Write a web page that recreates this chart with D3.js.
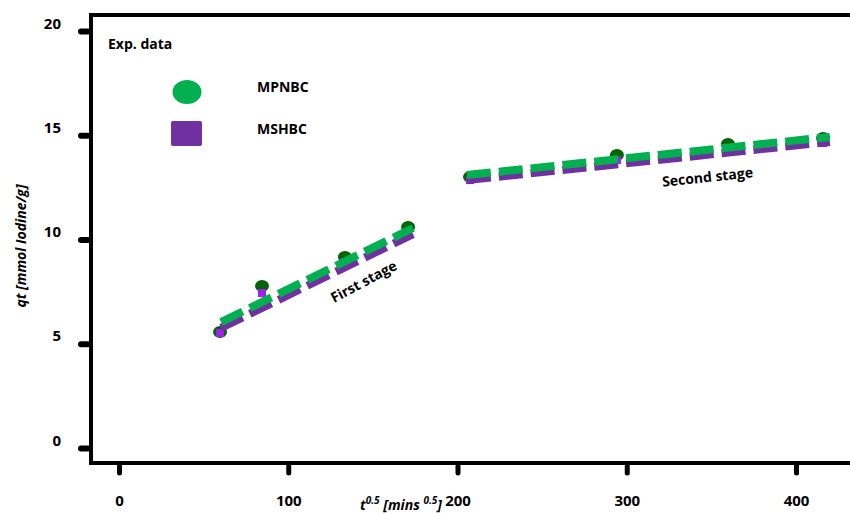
<!DOCTYPE html>
<html>
<head>
<meta charset="utf-8">
<script src="https://cdn.jsdelivr.net/npm/d3@7"></script>
<style>
  body { margin: 0; background: #fff; }
  text { font-family: "Open Sans", sans-serif; font-weight: 700; }
</style>
</head>
<body>
<div id="chart"></div>
<script>
// Chart size
var svgWidth = 850;
var svgHeight = 514;

// Data
var timeRoot = [59.7, 84.5, 133.5, 170.8, 207.4, 294.2, 359.8, 416];
var mpnbc = [5.56, 7.77, 9.16, 10.6, 13.0, 14.05, 14.58, 14.87];
var mshbc = [5.52, 7.43, 8.92, 10.31, 12.85, 13.81, 14.29, 14.63];

// Fitted lines for the two stages (end points)
var fitX1 = [60.3, 173.7];
var fitMpnbc1 = [6.04, 10.55];
var fitMshbc1 = [5.76, 10.26];
var fitX2 = [205.6, 420];
var fitMpnbc2 = [13.09, 14.92];
var fitMshbc2 = [12.85, 14.68];

var xTicks = [0, 100, 200, 300, 400];
var yTicks = [0, 5, 10, 15, 20];

var svg = d3.select("#chart")
    .append("svg")
    .attr("width", svgWidth)
    .attr("height", svgHeight);

// Scales
var x = d3.scaleLinear().domain([0, 400]).range([119, 796]);
var y = d3.scaleLinear().domain([0, 20]).range([448, 31]);

// Frame lines
svg.append("line").attr("x1", 89).attr("x2", 850).attr("y1", 15).attr("y2", 15)
    .attr("stroke", "#000").attr("stroke-width", 4);
svg.append("line").attr("x1", 91).attr("x2", 91).attr("y1", 13).attr("y2", 465)
    .attr("stroke", "#000").attr("stroke-width", 4);
svg.append("line").attr("x1", 89).attr("x2", 850).attr("y1", 463).attr("y2", 463)
    .attr("stroke", "#000").attr("stroke-width", 4);

// Left axis
var leftAxis = d3.axisLeft(y).tickValues(yTicks).tickSize(10).tickPadding(18);
var gy = svg.append("g").attr("transform", "translate(89,0)").call(leftAxis);
gy.select(".domain").remove();
gy.selectAll(".tick line").attr("stroke", "#000").attr("stroke-width", 6)
    .attr("stroke-linecap", "round").attr("x1", -1).attr("x2", -8);
gy.selectAll(".tick text").attr("font-size", 15).attr("fill", "#000")
    .attr("font-family", "Open Sans").attr("font-weight", 700)
    .attr("dy", "-0.2em");

// Bottom axis
var bottomAxis = d3.axisBottom(x).tickValues(xTicks).tickSize(10).tickPadding(22);
var gx = svg.append("g").attr("transform", "translate(0,463)").call(bottomAxis);
gx.select(".domain").remove();
gx.selectAll(".tick line").attr("stroke", "#000").attr("stroke-width", 5)
    .attr("stroke-linecap", "round").attr("y1", 3).attr("y2", 10);
gx.selectAll(".tick text").attr("font-size", 15).attr("fill", "#000")
    .attr("font-family", "Open Sans").attr("font-weight", 700);

// Axis titles
svg.append("text")
    .attr("transform", "translate(26,246) rotate(-90)")
    .attr("text-anchor", "middle")
    .attr("font-size", 14)
    .attr("font-style", "italic")
    .text("qt [mmol Iodine/g]");

var xt = svg.append("text")
    .attr("x", 360).attr("y", 510)
    .attr("font-size", 14)
    .attr("font-style", "italic");
xt.append("tspan").text("t");
xt.append("tspan").attr("font-size", 10).attr("dy", -6).text("0.5");
xt.append("tspan").attr("dy", 6).text(" [mins ");
xt.append("tspan").attr("font-size", 10).attr("dy", -6).text("0.5");
xt.append("tspan").attr("dy", 6).text("]");

// Experimental points
var pts = timeRoot.map((t, i) => ({ t: t, a: mpnbc[i], b: mshbc[i] }));

svg.selectAll("ellipse.pt").data(pts).enter()
    .append("ellipse").attr("class", "pt")
    .attr("cx", d => x(d.t)).attr("cy", d => y(d.a))
    .attr("rx", 7).attr("ry", 6)
    .attr("fill", "#006400");

svg.selectAll("rect.pt").data(pts).enter()
    .append("rect").attr("class", "pt")
    .attr("x", d => x(d.t) - 4).attr("y", d => y(d.b) - 4)
    .attr("width", 8).attr("height", 8)
    .attr("fill", "#a020f0");

// Fitted dashed lines
var line = d3.line().x(d => x(d[0])).y(d => y(d[1]));
var fits = [
    { pts: d3.zip(fitX1, fitMshbc1), color: "#7030a0" },
    { pts: d3.zip(fitX2, fitMshbc2), color: "#7030a0" },
    { pts: d3.zip(fitX1, fitMpnbc1), color: "#00b050" },
    { pts: d3.zip(fitX2, fitMpnbc2), color: "#00b050" }
];
svg.selectAll("path.fit").data(fits).enter()
    .append("path").attr("class", "fit")
    .attr("d", d => line(d.pts))
    .attr("fill", "none")
    .attr("stroke", d => d.color)
    .attr("stroke-width", 8)
    .attr("stroke-dasharray", "24,8");

// Stage labels
svg.append("text")
    .attr("transform", "translate(366,286) rotate(-28)")
    .attr("text-anchor", "middle")
    .attr("font-size", 14)
    .text("First stage");
svg.append("text")
    .attr("transform", "translate(708,182) rotate(-6)")
    .attr("text-anchor", "middle")
    .attr("font-size", 14)
    .text("Second stage");

// Legend
svg.append("text").attr("x", 108).attr("y", 49).attr("font-size", 14).text("Exp. data");
svg.append("ellipse").attr("cx", 187).attr("cy", 92).attr("rx", 14.5).attr("ry", 12)
    .attr("fill", "#00b050");
svg.append("rect").attr("x", 171).attr("y", 121).attr("width", 31).attr("height", 25)
    .attr("rx", 2).attr("fill", "#7030a0");
svg.append("text").attr("x", 257).attr("y", 92).attr("font-size", 14).text("MPNBC");
svg.append("text").attr("x", 257).attr("y", 134).attr("font-size", 14).text("MSHBC");
</script>
</body>
</html>
